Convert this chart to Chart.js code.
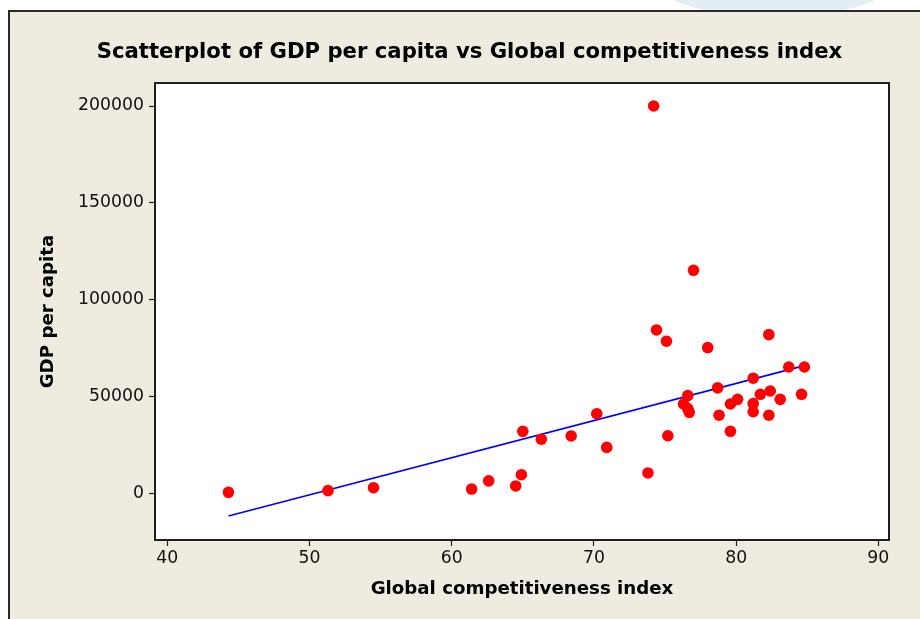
<!DOCTYPE html>
<html>
<head>
<meta charset="utf-8">
<script src="https://cdn.jsdelivr.net/npm/chart.js@4"></script>
<style>
  html, body { margin: 0; padding: 0; background: #ffffff; }
  #wrap { position: relative; width: 920px; height: 619px; overflow: hidden; }
  #glow { position: absolute; left: 628px; top: -110px; width: 292px; height: 128px;
          border-radius: 50%; background: #e2edf4; }
  #panel { position: absolute; left: 8px; top: 10px; right: 0; bottom: 0;
           background: #efebe1; border-left: 2px solid #2a2a2a; border-top: 2px solid #2a2a2a; }
  canvas { position: absolute; left: 0; top: 0; }
</style>
</head>
<body>
<div id="wrap">
  <div id="glow"></div>
  <div id="panel"></div>
  <canvas id="c" width="920" height="619"></canvas>
</div>
<script>
// Global competitiveness index (x) and GDP per capita (y) for each country
const gci = [44.3, 51.3, 54.5, 61.4, 62.6, 64.5, 64.9, 65.0, 66.3, 68.4,
             70.2, 70.9, 73.8, 74.2, 74.4, 75.1, 75.2, 76.3, 76.6, 76.6,
             76.7, 77.0, 78.0, 78.7, 78.8, 79.6, 79.6, 80.1, 81.2, 81.2,
             81.2, 81.7, 82.3, 82.3, 82.4, 83.1, 83.7, 84.6, 84.8];
const gdp = [600, 1500, 3000, 2300, 6500, 3900, 9700, 32100, 28000, 29700,
             41200, 23800, 10600, 200000, 84400, 78600, 29800, 46200, 50500, 43800,
             41900, 115200, 75300, 54500, 40400, 32100, 46200, 48600, 59500, 46400,
             42200, 51200, 82000, 40400, 52900, 48600, 65300, 51200, 65300];

// Fitted regression line end points
const fitX = [44.3, 84.8];
const fitY = [-11600, 66000];

// Axis ticks
const xTicks = [40, 50, 60, 70, 80, 90];
const yTicks = [0, 50000, 100000, 150000, 200000];

const chartTitle = 'Scatterplot of GDP per capita vs Global competitiveness index';
const xTitle = 'Global competitiveness index';
const yTitle = 'GDP per capita';

const family = '"DejaVu Sans", sans-serif';
const tickFont = { family, size: 17.3 };
const boldFont = (size) => ({ family, size, weight: 'bold' });

// White plotting region with a dark frame, plus the heading above it
const framePlugin = {
  id: 'frame',
  beforeDraw(chart) {
    const { ctx, chartArea: a } = chart;
    ctx.save();
    ctx.fillStyle = '#ffffff';
    ctx.fillRect(a.left, a.top, a.right - a.left, a.bottom - a.top);
    ctx.restore();
  },
  afterDraw(chart) {
    const { ctx, chartArea: a } = chart;
    ctx.save();
    ctx.strokeStyle = '#1e1e1e';
    ctx.lineWidth = 2;
    ctx.strokeRect(a.left, a.top, a.right - a.left, a.bottom - a.top);
    ctx.fillStyle = '#000000';
    ctx.font = 'bold 21.2px ' + family;
    ctx.textAlign = 'center';
    ctx.textBaseline = 'middle';
    ctx.fillText(chartTitle, 469.5, 52);
    ctx.restore();
  }
};

new Chart(document.getElementById('c'), {
  type: 'scatter',
  data: {
    datasets: [
      {
        type: 'line',
        data: fitX.map((x, i) => ({ x, y: fitY[i] })),
        borderColor: '#0000ff',
        borderWidth: 1.6,
        pointRadius: 0,
        fill: false,
        order: 2
      },
      {
        data: gci.map((x, i) => ({ x, y: gdp[i] })),
        backgroundColor: '#ff0000',
        borderWidth: 0,
        pointRadius: 5.8,
        order: 1
      }
    ]
  },
  options: {
    responsive: false,
    animation: false,
    events: [],
    layout: { padding: { left: 0, right: 31, top: 83, bottom: 0 } },
    plugins: {
      legend: { display: false },
      tooltip: { enabled: false },
      title: { display: false }
    },
    scales: {
      x: {
        type: 'linear',
        min: 39.135,
        max: 90.75,
        afterFit: (s) => { s.height = 79; },
        afterBuildTicks: (s) => { s.ticks = xTicks.map(v => ({ value: v })); },
        ticks: {
          includeBounds: false,
          color: '#111111',
          font: tickFont,
          padding: 2,
          callback: (v) => String(v)
        },
        grid: { drawOnChartArea: false, drawTicks: true, tickLength: 6, tickColor: '#1e1e1e', tickWidth: 1.2 },
        border: { display: false },
        title: {
          display: true,
          text: xTitle,
          color: '#000000',
          font: boldFont(18.2),
          padding: { top: 0, bottom: 19 }
        }
      },
      y: {
        type: 'linear',
        min: -24000,
        max: 211871,
        afterFit: (s) => { s.width = 155; },
        afterBuildTicks: (s) => { s.ticks = yTicks.map(v => ({ value: v })); },
        ticks: {
          includeBounds: false,
          color: '#111111',
          font: tickFont,
          padding: 5,
          callback: (v) => String(v)
        },
        grid: { drawOnChartArea: false, drawTicks: true, tickLength: 6, tickColor: '#1e1e1e', tickWidth: 1.2 },
        border: { display: false },
        title: {
          display: true,
          text: yTitle,
          color: '#000000',
          font: boldFont(18.2),
          padding: { top: 37, bottom: 0 }
        }
      }
    }
  },
  plugins: [framePlugin]
});
</script>
</body>
</html>
